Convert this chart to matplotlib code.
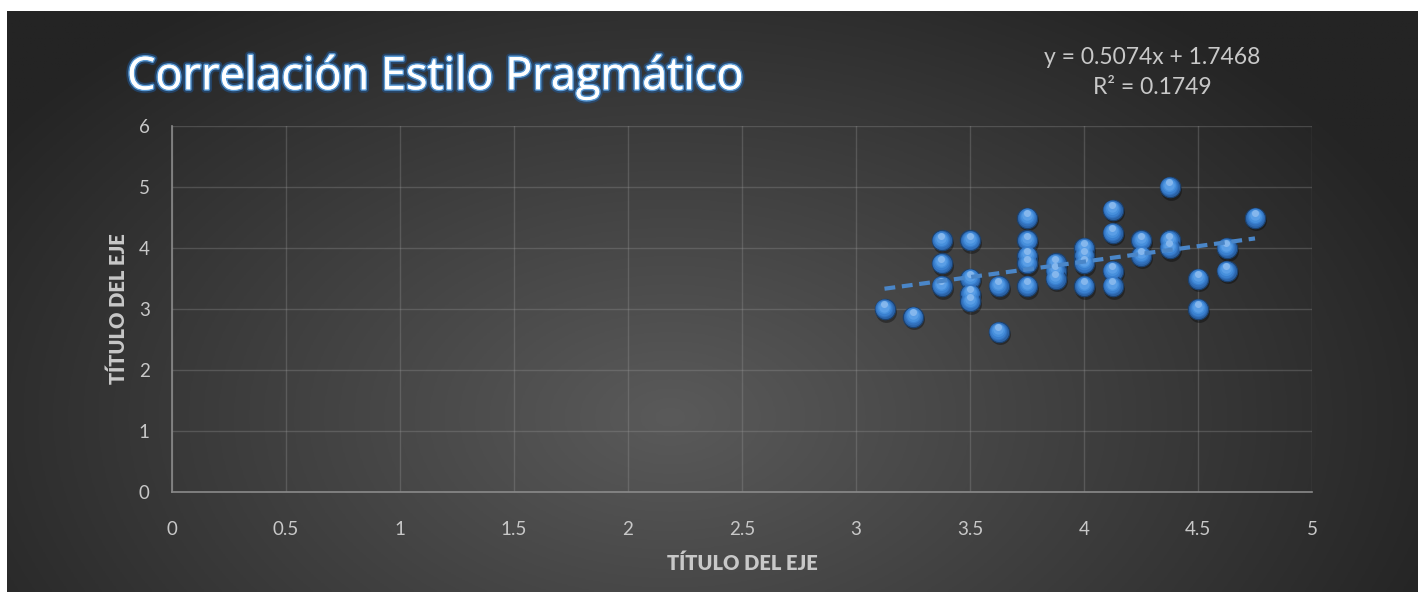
import numpy as np
import matplotlib
matplotlib.use('Agg')
import matplotlib.pyplot as plt
import matplotlib.patheffects as pe
from matplotlib.transforms import offset_copy

# averages per respondent (x vs y)
x = [3.125, 3.25,
     3.375, 3.375, 3.375,
     3.5, 3.5, 3.5, 3.5,
     3.625, 3.625,
     3.75, 3.75, 3.75, 3.75, 3.75,
     3.875, 3.875, 3.875,
     4.0, 4.0, 4.0, 4.0,
     4.125, 4.125, 4.125, 4.125,
     4.25, 4.25,
     4.375, 4.375, 4.375,
     4.5, 4.5,
     4.625, 4.625,
     4.75]
y = [3.0, 2.875,
     4.125, 3.75, 3.375,
     4.125, 3.5, 3.25, 3.125,
     3.375, 2.625,
     4.5, 4.125, 3.875, 3.75, 3.375,
     3.75, 3.625, 3.5,
     4.0, 3.875, 3.75, 3.375,
     4.625, 4.25, 3.625, 3.375,
     4.125, 3.875,
     5.0, 4.125, 4.0,
     3.5, 3.0,
     4.0, 3.625,
     4.5]

slope = 0.5074
intercept = 1.7468
r2 = 0.1749

x_ticks = [0, 0.5, 1, 1.5, 2, 2.5, 3, 3.5, 4, 4.5, 5]
x_tick_labels = ['0', '0.5', '1', '1.5', '2', '2.5', '3', '3.5', '4', '4.5', '5']
y_ticks = [0, 1, 2, 3, 4, 5, 6]

title = 'Correlación Estilo Pragmático'
axis_title = 'TÍTULO DEL EJE'

plt.rcParams['font.family'] = ['Lato', 'DejaVu Sans']
txt = '#c8c8c8'

fig = plt.figure(figsize=(14.21, 5.92), dpi=100)
fig.patch.set_facecolor('white')

# dark radial background panel
bg = fig.add_axes([7 / 1421, 0, (1418 - 7) / 1421, (592 - 11) / 592])
gx, gy = np.meshgrid(np.linspace(0, 1, 400), np.linspace(0, 1, 200))
d = np.sqrt(((gx - 0.47) / 0.62) ** 2 + ((gy - 0.3) / 0.95) ** 2)
shade = np.clip(90 - 58 * d, 36, 90) / 255
bg.imshow(np.dstack([shade, shade, shade]), extent=[0, 1, 0, 1], aspect='auto', origin='lower')
bg.set_axis_off()

ax = fig.add_axes([172 / 1421, 1 - 492 / 592, (1312 - 172) / 1421, (492 - 126) / 592])
ax.patch.set_alpha(0)
ax.set_xlim(0, 5)
ax.set_ylim(0, 6)
ax.set_xticks(x_ticks)
ax.set_xticklabels(x_tick_labels)
ax.set_yticks(y_ticks)
ax.grid(True, color='#9a9a9a', alpha=0.3, linewidth=1)
ax.set_axisbelow(True)
for side in ['top', 'right']:
    ax.spines[side].set_visible(False)
for side in ['left', 'bottom']:
    ax.spines[side].set_color('#8a8a8a')
    ax.spines[side].set_linewidth(1.2)
ax.tick_params(length=0, colors=txt, labelsize=13.5)
ax.tick_params(axis='x', pad=21)
ax.tick_params(axis='y', pad=16)

ax.set_xlabel(axis_title, color=txt, fontsize=14.5, fontweight='heavy', labelpad=11)
ax.set_ylabel(axis_title, color=txt, fontsize=14.5, fontweight='heavy', labelpad=8)

# spherical markers built from stacked discs
s = 215
ax.scatter(x, y, s=s * 1.05, color='black', alpha=0.35, linewidths=0, zorder=3,
           transform=offset_copy(ax.transData, fig, 1.0, -1.8, units='points'))
ax.scatter(x, y, s=s, color='#2a62a6', edgecolor='#1b416f', linewidths=0.8, zorder=4)
layers = [(0.78, '#3170bb', 0.5), (0.60, '#3a80cf', 0.9), (0.42, '#4790dc', 1.3), (0.26, '#5a9ee6', 1.8)]
for f, c, dy in layers:
    ax.scatter(x, y, s=s * f, color=c, linewidths=0, zorder=5,
               transform=offset_copy(ax.transData, fig, -0.2, dy, units='points'))
ax.scatter(x, y, s=s * 0.12, color='#a9cdf3', alpha=0.55, linewidths=0, zorder=6,
           transform=offset_copy(ax.transData, fig, -0.3, 3.4, units='points'))

# linear trend line
tx = np.array([min(x), max(x)])
ax.plot(tx, slope * tx + intercept, color='#4a86c8', linewidth=3, dashes=(2.6, 1.6),
        solid_capstyle='butt', zorder=7)

fig.text(127 / 1421, 1 - 77 / 592, title, fontsize=32.5, color='white', va='center', ha='left',
         family=['Open Sans', 'DejaVu Sans'],
         path_effects=[pe.withStroke(linewidth=5, foreground='#1f5a9e', alpha=0.5),
                       pe.withStroke(linewidth=2.2, foreground='#5b9bd5'),
                       pe.Normal()])
fig.text(1152 / 1421, 1 - 57 / 592, f'y = {slope}x + {intercept}', fontsize=16.5, color=txt,
         ha='center', va='center')
fig.text(1152 / 1421, 1 - 88 / 592, f'R² = {r2}', fontsize=16.5, color=txt,
         ha='center', va='center')

fig.savefig('out.png', dpi=100, facecolor='white')
